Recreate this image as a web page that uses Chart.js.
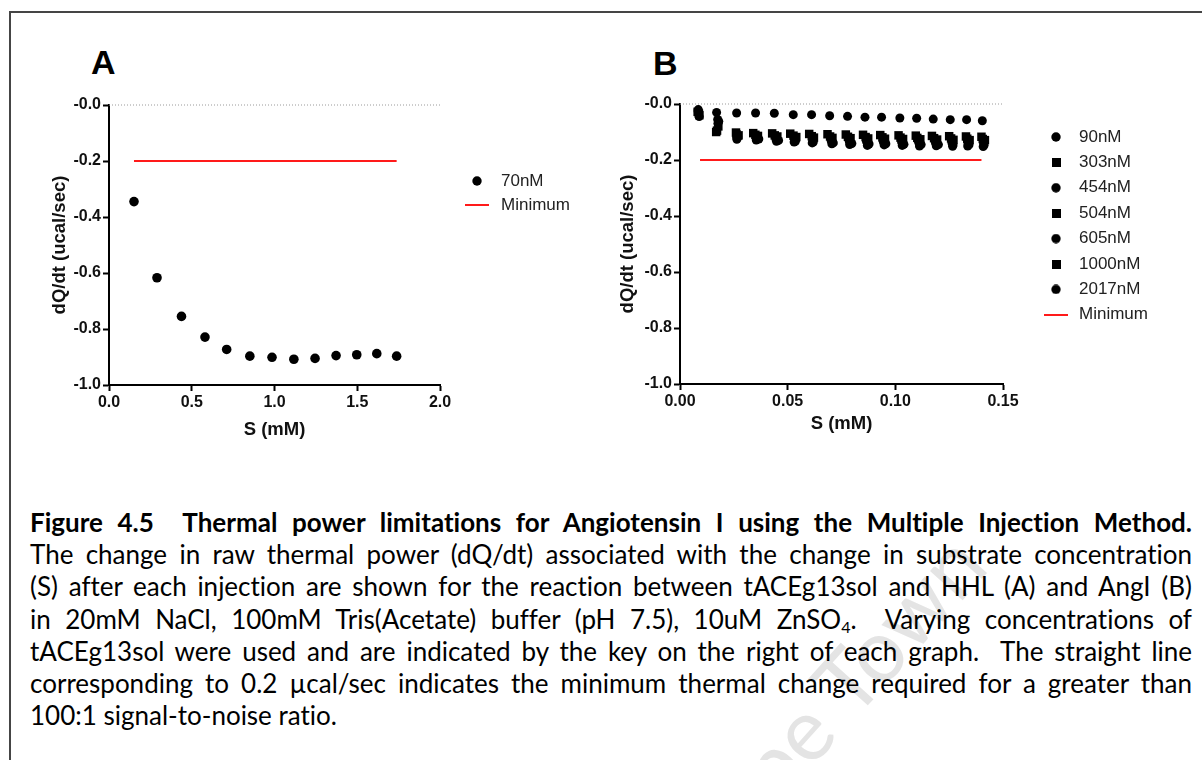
<!DOCTYPE html>
<html>
<head>
<meta charset="utf-8">
<script src="https://cdn.jsdelivr.net/npm/chart.js@4.4.1/dist/chart.umd.min.js"></script>
<style>
html,body{margin:0;padding:0;background:#fff;}
body{width:1202px;height:760px;position:relative;overflow:hidden;font-family:'Liberation Sans',Arial,sans-serif;}
#frame{position:absolute;left:9px;top:11px;width:1400px;height:1000px;border-top:2px solid #454545;border-left:2px solid #454545;}
.panel{position:absolute;font:bold 34px 'Liberation Sans',Arial,sans-serif;line-height:34px;color:#000;}
canvas{position:absolute;top:0;}
#wm{position:absolute;left:0;top:0;font-family:Lato,'Open Sans',sans-serif;font-size:90px;line-height:90px;color:#e4e4e4;white-space:nowrap;}
#caption{position:absolute;left:30px;top:506px;font-family:Lato,'Open Sans',sans-serif;font-size:26px;line-height:32.2px;color:#000;transform-origin:0 0;width:1162px;font-variant-ligatures:none;font-feature-settings:"liga" 0,"dlig" 0;}
.ln{text-align:justify;text-align-last:justify;}
.ln.last{text-align-last:left;text-align:left;}
.ln b{font-weight:700;}
sub{font-size:0.62em;vertical-align:-0.22em;line-height:0;}
</style>
</head>
<body>
<div id="frame"></div>
<div id="wm">Cape <span id="wmTown">Town</span></div>
<div class="panel" style="left:91px;top:45px;">A</div>
<div class="panel" style="left:653px;top:46px;">B</div>
<canvas id="chartA" width="600" height="470" style="left:0px;width:600px;height:470px;"></canvas>
<canvas id="chartB" width="602" height="470" style="left:600px;width:602px;height:470px;"></canvas>
<div id="caption">
<div class="ln"><b>Figure 4.5&nbsp; Thermal power limitations for Angiotensin I using the Multiple Injection Method.</b></div>
<div class="ln">The change in raw thermal power (dQ/dt) associated with the change in substrate concentration</div>
<div class="ln">(S) after each injection are shown for the reaction between tACEg13sol and HHL (A) and AngI (B)</div>
<div class="ln">in 20mM NaCl, 100mM Tris(Acetate) buffer (pH 7.5), 10uM ZnSO<sub>4</sub>.&nbsp; Varying concentrations of</div>
<div class="ln">tACEg13sol were used and are indicated by the key on the right of each graph.&nbsp; The straight line</div>
<div class="ln">corresponding to 0.2 µcal/sec indicates the minimum thermal change required for a greater than</div>
<div class="ln last">100:1 signal-to-noise ratio.</div>
</div>
<script>
// ===== Panel A data =====
const a70nM_x = [0.151, 0.290, 0.438, 0.580, 0.711, 0.851, 0.985, 1.117, 1.245, 1.372, 1.497, 1.618, 1.738];
const a70nM_y = [-0.345, -0.617, -0.755, -0.829, -0.873, -0.897, -0.901, -0.908, -0.905, -0.895, -0.892, -0.888, -0.897];
const aMinimum_x = [0.151, 1.738];
const aMinimum_y = [-0.2, -0.2];
const aBaseline_x = [0, 2.0];
const aBaseline_y = [0, 0];
const xTicksA = [0, 0.5, 1.0, 1.5, 2.0];
const xTickLabelsA = ['0.0', '0.5', '1.0', '1.5', '2.0'];

// ===== Panel B data =====
const b90nM_x = [0.0085, 0.0170, 0.0263, 0.0351, 0.0438, 0.0526, 0.0611, 0.0695, 0.0778, 0.0859, 0.0936, 0.1021, 0.1099, 0.1176, 0.1255, 0.1331, 0.1404];
const b90nM_y = [-0.020, -0.030, -0.032, -0.032, -0.033, -0.038, -0.038, -0.042, -0.044, -0.047, -0.047, -0.050, -0.051, -0.054, -0.056, -0.056, -0.060];
const b303nM_x = [0.0088, 0.0172, 0.0262, 0.0350, 0.0440, 0.0527, 0.0612, 0.0697, 0.0780, 0.0862, 0.0940, 0.1024, 0.1102, 0.1180, 0.1259, 0.1334, 0.1406];
const b303nM_y = [-0.035, -0.095, -0.108, -0.110, -0.112, -0.113, -0.115, -0.116, -0.117, -0.118, -0.119, -0.120, -0.121, -0.122, -0.123, -0.124, -0.125];
const b454nM_x = [0.0084, 0.0175, 0.0268, 0.0356, 0.0445, 0.0532, 0.0616, 0.0702, 0.0786, 0.0866, 0.0944, 0.1029, 0.1108, 0.1186, 0.1263, 0.1338, 0.1410];
const b454nM_y = [-0.025, -0.055, -0.117, -0.120, -0.124, -0.126, -0.129, -0.131, -0.133, -0.134, -0.135, -0.136, -0.137, -0.138, -0.139, -0.140, -0.141];
const b504nM_x = [0.0090, 0.0178, 0.0272, 0.0362, 0.0452, 0.0540, 0.0622, 0.0708, 0.0792, 0.0874, 0.0952, 0.1036, 0.1116, 0.1194, 0.1270, 0.1345, 0.1416];
const b504nM_y = [-0.040, -0.080, -0.112, -0.114, -0.116, -0.118, -0.120, -0.121, -0.122, -0.123, -0.124, -0.125, -0.126, -0.127, -0.128, -0.129, -0.129];
const b605nM_x = [0.0086, 0.0180, 0.0266, 0.0366, 0.0458, 0.0536, 0.0619, 0.0712, 0.0798, 0.0878, 0.0956, 0.1040, 0.1120, 0.1200, 0.1268, 0.1342, 0.1412];
const b605nM_y = [-0.030, -0.062, -0.122, -0.125, -0.130, -0.133, -0.136, -0.139, -0.141, -0.143, -0.142, -0.144, -0.145, -0.145, -0.146, -0.146, -0.147];
const b1000nM_x = [0.0082, 0.0168, 0.0260, 0.0340, 0.0428, 0.0512, 0.0600, 0.0685, 0.0770, 0.0850, 0.0930, 0.1015, 0.1095, 0.1170, 0.1250, 0.1328, 0.1400];
const b1000nM_y = [-0.028, -0.100, -0.102, -0.104, -0.105, -0.106, -0.107, -0.108, -0.109, -0.110, -0.111, -0.112, -0.113, -0.114, -0.115, -0.116, -0.117];
const b2017nM_x = [0.0089, 0.0176, 0.0264, 0.0354, 0.0448, 0.0530, 0.0614, 0.0705, 0.0788, 0.0870, 0.0948, 0.1032, 0.1112, 0.1190, 0.1266, 0.1336, 0.1408];
const b2017nM_y = [-0.045, -0.070, -0.126, -0.129, -0.133, -0.136, -0.139, -0.142, -0.145, -0.148, -0.146, -0.148, -0.150, -0.149, -0.151, -0.150, -0.152];
const bMinimum_x = [0.0093, 0.1400];
const bMinimum_y = [-0.2, -0.2];
const bBaseline_x = [0, 0.15];
const bBaseline_y = [0, 0];
const xTicksB = [0, 0.05, 0.10, 0.15];
const xTickLabelsB = ['0.00', '0.05', '0.10', '0.15'];

// shared y axis
const yTicks = [0, -0.2, -0.4, -0.6, -0.8, -1.0];
const yTickLabels = ['-0.0', '-0.2', '-0.4', '-0.6', '-0.8', '-1.0'];

// ===== helpers =====
const pts = (xs, ys) => xs.map((x, i) => ({x: x, y: ys[i]}));
function icon(kind, size) {
  const c = document.createElement('canvas');
  const g = c.getContext('2d');
  if (kind === 'circle') { c.width = size; c.height = size; g.fillStyle = '#000'; g.beginPath(); g.arc(size / 2, size / 2, size / 2 - 0.3, 0, Math.PI * 2); g.fill(); }
  else if (kind === 'rect') { c.width = size; c.height = size; g.fillStyle = '#000'; g.fillRect(0, 0, size, size); }
  else { c.width = size; c.height = 2; g.fillStyle = '#ff1a1a'; g.fillRect(0, 0, size, 2); }
  return c;
}
const FONT = "'Liberation Sans', Arial, sans-serif";

const legendPlace = {
  id: 'legendPlace',
  afterLayout(chart, args, opts) {
    const lg = chart.legend; if (!lg) return;
    const w = lg.width, h = lg.height;
    lg.left = opts.x; lg.top = opts.y; lg.right = opts.x + w; lg.bottom = opts.y + h;
  }
};

function scatterSet(label, xs, ys, style, radius, ic) {
  return { type: 'scatter', label: label, data: pts(xs, ys), pointStyle: style, pointRadius: radius, pointHoverRadius: radius,
    backgroundColor: '#000', borderColor: '#000', borderWidth: 0, showLine: false, clip: false, legendIcon: ic };
}
function lineSet(label, xs, ys, color, width, dash, ic, noLegend) {
  return { type: 'line', label: label, data: pts(xs, ys), borderColor: color, borderWidth: width, borderDash: dash,
    pointRadius: 0, pointHoverRadius: 0, showLine: true, fill: false, clip: false, legendIcon: ic, noLegend: !!noLegend };
}

function makeOptions(cfg) {
  return {
    responsive: false, animation: false, devicePixelRatio: 1,
    layout: { padding: cfg.padding },
    plugins: {
      tooltip: { enabled: false },
      title: { display: false },
      legend: {
        display: true, position: 'chartArea', align: 'start',
        labels: {
          usePointStyle: true, pointStyleWidth: cfg.boxW, padding: cfg.legPad, color: '#222',
          font: { family: FONT, size: 17 },
          generateLabels(chart) {
            const out = [];
            chart.data.datasets.forEach((ds, i) => {
              if (ds.noLegend) return;
              out.push({ text: ds.label, pointStyle: ds.legendIcon, fillStyle: '#000', strokeStyle: '#000', lineWidth: 0,
                hidden: false, datasetIndex: i, fontColor: '#222' });
            });
            return out;
          }
        }
      },
      legendPlace: { x: cfg.legX, y: cfg.legY }
    },
    scales: {
      x: {
        type: 'linear', min: cfg.xMin, max: cfg.xMax,
        afterFit(s) { s.height = cfg.xH; },
        afterBuildTicks(s) { s.ticks = cfg.xTicks.map(v => ({ value: v })); },
        ticks: { padding: 2, color: '#111', font: { family: FONT, size: 16, weight: 'bold' }, maxRotation: 0, autoSkip: false,
          callback(v) { const k = cfg.xTicks.findIndex(t => Math.abs(t - v) < 1e-9); return k >= 0 ? cfg.xLabels[k] : ''; } },
        grid: { display: true, drawOnChartArea: false, drawTicks: true, tickLength: 6, tickWidth: 2, tickColor: '#000' },
        border: { display: true, color: '#000', width: 2 },
        title: { display: true, text: 'S (mM)', color: '#111', font: { family: FONT, size: 18.5, weight: 'bold' }, padding: { top: 4, bottom: 4 } }
      },
      y: {
        type: 'linear', min: -1, max: 0,
        afterFit(s) { s.width = cfg.yW; },
        afterBuildTicks(s) { s.ticks = yTicks.slice().reverse().map(v => ({ value: v })); },
        ticks: { padding: 2, color: '#111', font: { family: FONT, size: 16, weight: 'bold' }, autoSkip: false,
          callback(v) { const k = yTicks.findIndex(t => Math.abs(t - v) < 1e-9); return k >= 0 ? yTickLabels[k] : ''; } },
        grid: { display: true, drawOnChartArea: false, drawTicks: true, tickLength: 6, tickWidth: 2, tickColor: '#000' },
        border: { display: true, color: '#000', width: 2 },
        title: { display: true, text: 'dQ/dt (ucal/sec)', color: '#111', font: { family: FONT, size: 18.5, weight: 'bold' }, padding: { top: 4, bottom: 4 } }
      }
    }
  };
}

function build() {
  const icCircleA = icon('circle', 10), icLine = icon('line', 24);
  const icCircle = icon('circle', 10), icRect = icon('rect', 9);

  new Chart(document.getElementById('chartA'), {
    type: 'scatter',
    data: { datasets: [
      lineSet('baseline', aBaseline_x, aBaseline_y, '#9a9a9a', 1, [1, 2], null, true),
      scatterSet('70nM', a70nM_x, a70nM_y, 'circle', 4.8, icCircleA),
      lineSet('Minimum', aMinimum_x, aMinimum_y, '#ff1a1a', 2, [], icLine)
    ] },
    options: makeOptions({
      padding: { left: 44.9, top: 105, right: 160, bottom: 24.9 }, yW: 64.1, xH: 60.1,
      xMin: 0, xMax: 2, xTicks: xTicksA, xLabels: xTickLabelsA,
      boxW: 31, legPad: 7, legX: 454.5, legY: 165.5
    }),
    plugins: [legendPlace]
  });

  new Chart(document.getElementById('chartB'), {
    type: 'scatter',
    data: { datasets: [
      lineSet('baseline', bBaseline_x, bBaseline_y, '#9a9a9a', 1, [1, 2], null, true),
      scatterSet('90nM', b90nM_x, b90nM_y, 'circle', 4.5, icCircle),
      scatterSet('303nM', b303nM_x, b303nM_y, 'rect', 6, icRect),
      scatterSet('454nM', b454nM_x, b454nM_y, 'circle', 4.5, icCircle),
      scatterSet('504nM', b504nM_x, b504nM_y, 'rect', 6, icRect),
      scatterSet('605nM', b605nM_x, b605nM_y, 'circle', 4.5, icCircle),
      scatterSet('1000nM', b1000nM_x, b1000nM_y, 'rect', 6, icRect),
      scatterSet('2017nM', b2017nM_x, b2017nM_y, 'circle', 4.5, icCircle),
      lineSet('Minimum', bMinimum_x, bMinimum_y, '#ff1a1a', 2, [], icLine)
    ] },
    options: makeOptions({
      padding: { left: 12.9, top: 104, right: 199, bottom: 30.9 }, yW: 67.1, xH: 55.1,
      xMin: 0, xMax: 0.15, xTicks: xTicksB, xLabels: xTickLabelsB,
      boxW: 29, legPad: 8.4, legX: 433.1, legY: 120.1
    }),
    plugins: [legendPlace]
  });
}

function layoutCaption() {
  const cap = document.getElementById('caption');
  const lines = Array.from(cap.querySelectorAll('.ln'));
  const target = 1162;
  cap.style.transform = 'none';
  let maxW = 0;
  lines.forEach(l => {
    l.style.display = 'inline-block'; l.style.whiteSpace = 'nowrap';
    maxW = Math.max(maxW, l.getBoundingClientRect().width);
  });
  lines.forEach(l => { l.style.display = ''; l.style.whiteSpace = ''; });
  if (maxW > target - 2) {
    const w = maxW + 4;
    cap.style.width = w + 'px';
    cap.style.transform = 'scaleX(' + (target / w) + ')';
  } else {
    cap.style.width = target + 'px';
    cap.style.transform = 'none';
  }
}

function placeWatermark() {
  const wm = document.getElementById('wm');
  const town = document.getElementById('wmTown');
  wm.style.transform = 'none';
  wm.style.fontSize = '90px'; wm.style.lineHeight = '90px';
  const tw0 = town.getBoundingClientRect().width;
  const fs = 90 * 205 / tw0;
  wm.style.fontSize = fs + 'px'; wm.style.lineHeight = fs + 'px';
  const W = wm.getBoundingClientRect().width;
  const tw = town.getBoundingClientRect().width;
  const ox = W - tw / 2, oy = fs / 2;
  const cx = 898, cy = 623;
  wm.style.transformOrigin = ox + 'px ' + oy + 'px';
  wm.style.left = (cx - ox) + 'px';
  wm.style.top = (cy - oy) + 'px';
  wm.style.transform = 'rotate(-48deg)';
}

placeWatermark();
layoutCaption();
build();
if (document.fonts && document.fonts.ready) { document.fonts.ready.then(() => { placeWatermark(); layoutCaption(); }); }
</script>
</body>
</html>
